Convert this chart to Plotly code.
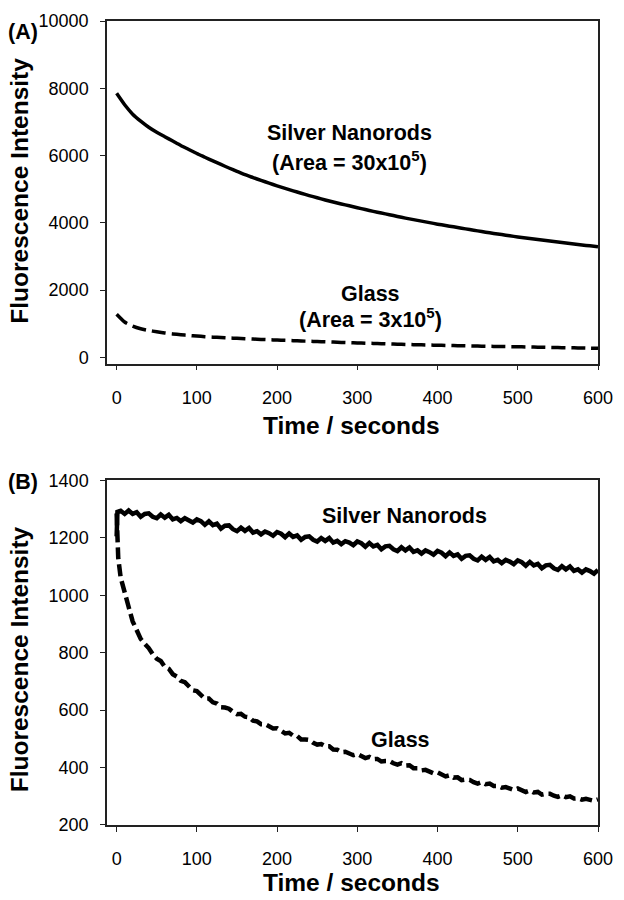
import plotly.graph_objects as go

# ---------------- Panel A data (Time / seconds, Fluorescence Intensity) ----------------
time_a = list(range(0, 601, 10))
silver_a = [7850, 7510, 7230, 7020, 6840, 6690, 6560, 6430, 6300, 6180,
            6060, 5950, 5840, 5735, 5630, 5530, 5430, 5345, 5260, 5180,
            5100, 5025, 4950, 4880, 4810, 4745, 4680, 4620, 4560, 4505,
            4450, 4395, 4340, 4290, 4240, 4190, 4140, 4095, 4050, 4005,
            3960, 3920, 3880, 3840, 3800, 3760, 3720, 3685, 3650, 3615,
            3580, 3550, 3520, 3490, 3460, 3430, 3400, 3370, 3340, 3315, 3290]
glass_a = [1280, 1050, 930, 850, 800, 760, 725, 697, 673, 652,
           633, 616, 601, 588, 576, 565, 554, 544, 534, 524,
           514, 505, 496, 487, 478, 469, 461, 453, 445, 437,
           430, 422, 415, 408, 400, 392, 385, 378, 372, 366,
           360, 355, 350, 345, 340, 335, 330, 326, 322, 318,
           315, 310, 305, 300, 295, 291, 287, 282, 278, 273, 268]

# ---------------- Panel B data ----------------
time_b_silver = [0, 1] + list(range(5, 601, 5))
silver_b = [1205, 1290,
            1294, 1283, 1295, 1283, 1289, 1273, 1283, 1285, 1273, 1268,
            1281, 1270, 1280, 1264, 1269, 1258, 1268, 1262, 1253, 1264,
            1258, 1245, 1257, 1244, 1249, 1232, 1242, 1243, 1230, 1223,
            1235, 1224, 1234, 1218, 1223, 1212, 1222, 1216, 1207, 1220,
            1214, 1202, 1215, 1203, 1208, 1193, 1203, 1205, 1193, 1187,
            1199, 1189, 1199, 1183, 1189, 1178, 1188, 1183, 1174, 1187,
            1181, 1169, 1182, 1170, 1175, 1160, 1170, 1172, 1160, 1154,
            1167, 1156, 1166, 1151, 1156, 1145, 1156, 1150, 1141, 1154,
            1148, 1136, 1149, 1137, 1142, 1127, 1137, 1139, 1127, 1121,
            1134, 1123, 1133, 1118, 1123, 1112, 1123, 1117, 1108, 1121,
            1115, 1103, 1116, 1104, 1109, 1094, 1104, 1106, 1094, 1088,
            1101, 1090, 1100, 1085, 1090, 1079, 1090, 1084, 1075, 1088]

time_b_glass = [0, 2] + list(range(5, 601, 5))
glass_b = [1285, 1130,
           1062, 1002, 959, 909, 881, 848, 831, 816, 795, 779,
           771, 751, 744, 725, 717, 702, 697, 683, 669, 666,
           654, 640, 640, 627, 623, 610, 609, 605, 594, 586,
           587, 577, 575, 563, 561, 551, 551, 544, 536, 537,
           530, 519, 521, 511, 510, 498, 498, 496, 486, 480,
           482, 474, 474, 463, 462, 454, 455, 450, 443, 447,
           442, 433, 437, 429, 430, 421, 423, 423, 415, 410,
           415, 407, 408, 398, 398, 390, 392, 386, 380, 383,
           378, 369, 373, 365, 366, 356, 358, 357, 349, 344,
           349, 342, 344, 336, 336, 330, 332, 328, 322, 327,
           322, 315, 320, 313, 315, 306, 309, 309, 302, 298,
           303, 297, 300, 292, 293, 288, 291, 288, 284, 289]

x_ticks = [0, 100, 200, 300, 400, 500, 600]
y_ticks_a = [0, 2000, 4000, 6000, 8000, 10000]
y_ticks_b = [200, 400, 600, 800, 1000, 1200, 1400]

FONT = "Liberation Sans, Arial, Helvetica, sans-serif"

fig = go.Figure()
fig.add_trace(go.Scatter(x=time_a, y=silver_a, mode="lines", xaxis="x", yaxis="y",
                         line=dict(color="black", width=3.5, shape="spline", smoothing=0.6),
                         showlegend=False))
fig.add_trace(go.Scatter(x=time_a, y=glass_a, mode="lines", xaxis="x", yaxis="y",
                         line=dict(color="black", width=3.5, dash="14px,6px",
                                   shape="spline", smoothing=0.6),
                         showlegend=False))
fig.add_trace(go.Scatter(x=time_b_silver, y=silver_b, mode="lines", xaxis="x2", yaxis="y2",
                         line=dict(color="black", width=4.5), showlegend=False))
fig.add_trace(go.Scatter(x=time_b_glass, y=glass_b, mode="lines", xaxis="x2", yaxis="y2",
                         line=dict(color="black", width=4.5, dash="12px,5px"), showlegend=False))

axis_common = dict(showline=True, linecolor="#222", linewidth=1.5, mirror=True,
                   ticks="outside", ticklen=5, tickwidth=1, tickcolor="#222",
                   showgrid=False, zeroline=False,
                   tickfont=dict(family=FONT, size=18, color="black"))

fig.update_layout(
    width=624, height=900,
    margin=dict(l=107, r=19, t=11, b=75),
    paper_bgcolor="white", plot_bgcolor="white",
    xaxis=dict(domain=[0, 1], anchor="y", range=[-12, 600], tickvals=x_ticks,
               ticklabelstandoff=12, **axis_common),
    yaxis=dict(domain=[0.5737, 1], anchor="x", range=[-190, 10000], tickvals=y_ticks_a,
               ticktext=[str(v) for v in y_ticks_a],
               ticklabelstandoff=8, **axis_common),
    xaxis2=dict(domain=[0, 1], anchor="y2", range=[-12, 600], tickvals=x_ticks,
                ticklabelstandoff=12, **axis_common),
    yaxis2=dict(domain=[0, 0.4287], anchor="x2", range=[200, 1400], tickvals=y_ticks_b,
                ticktext=[str(v) for v in y_ticks_b],
                ticklabelstandoff=8, **axis_common),
)

bold = dict(family=FONT, size=21.5, color="black")
title_font = dict(family=FONT, size=24.5, color="black")

ann = [
    # in-plot labels, panel A
    dict(x=290, y=6660, xref="x", yref="y", text="<b>Silver Nanorods</b>", font=bold),
    dict(x=290, y=5840, xref="x", yref="y", text="<b>(Area = 30x10<sup>5</sup>)</b>", font=bold),
    dict(x=316, y=1888, xref="x", yref="y", text="<b>Glass</b>", font=bold),
    dict(x=316, y=1156, xref="x", yref="y", text="<b>(Area = 3x10<sup>5</sup>)</b>", font=bold),
    # in-plot labels, panel B
    dict(x=359, y=1277, xref="x2", yref="y2", text="<b>Silver Nanorods</b>", font=bold),
    dict(x=354, y=496, xref="x2", yref="y2", text="<b>Glass</b>", font=bold),
    # axis titles
    dict(x=-0.1787, y=0.7893, xref="paper", yref="paper", text="<b>Fluorescence Intensity</b>",
         textangle=-90, font=title_font),
    dict(x=-0.1787, y=0.2064, xref="paper", yref="paper", text="<b>Fluorescence Intensity</b>",
         textangle=-90, font=title_font),
    dict(x=0.498, y=0.4975, xref="paper", yref="paper", text="<b>Time / seconds</b>", font=title_font),
    dict(x=0.498, y=-0.0715, xref="paper", yref="paper", text="<b>Time / seconds</b>", font=title_font),
    # panel labels
    dict(x=-0.1707, y=0.9865, xref="paper", yref="paper", text="<b>(A)</b>", font=bold),
    dict(x=-0.1707, y=0.4263, xref="paper", yref="paper", text="<b>(B)</b>", font=bold),
]
for a in ann:
    a.setdefault("showarrow", False)
    a.setdefault("xanchor", "center")
    a.setdefault("yanchor", "middle")
fig.update_layout(annotations=ann)

fig.write_html(
    "out.html",
    config={"displayModeBar": False},
    post_script="document.body.style.margin='0';document.body.style.padding='0';"
                "document.body.style.overflow='hidden';",
)
